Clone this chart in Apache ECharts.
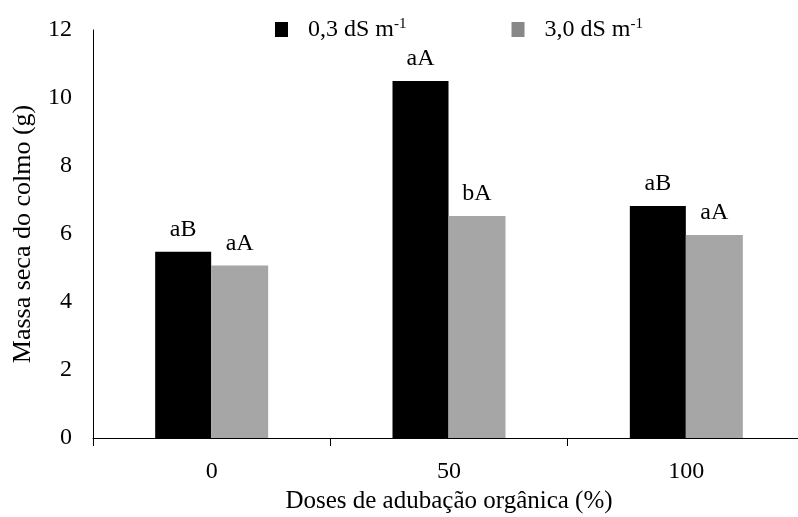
<!DOCTYPE html>
<html>
<head>
<meta charset="utf-8">
<script src="https://cdn.jsdelivr.net/npm/echarts@6/dist/echarts.min.js"></script>
<style>html,body{margin:0;padding:0;background:#fff;overflow:hidden}#c{width:798px;height:517px}</style>
</head>
<body>
<div id="c"></div>
<script>
const categories = ['0', '50', '100'];
const seriesLow = [5.48, 10.5, 6.82];
const seriesHigh = [5.07, 6.53, 5.97];
const lettersLow = ['aB', 'aA', 'aB'];
const lettersHigh = ['aA', 'bA', 'aA'];
const yTicks = [0, 2, 4, 6, 8, 10, 12];

const FONT = '"Liberation Serif", "DejaVu Serif", serif';
const chart = echarts.init(document.getElementById('c'));
const labelFor = (letters) => ({
  show: true, position: 'top', distance: 10,
  fontFamily: FONT, fontSize: 24, color: '#000',
  formatter: p => letters[p.dataIndex]
});
chart.setOption({
  animation: false,
  textStyle: { fontFamily: FONT },
  grid: { left: 93, top: 30, right: -7, bottom: 79, containLabel: false, outerBoundsMode: 'none' },
  legend: {
    top: 12, left: 270, itemGap: 105, itemWidth: 13, itemHeight: 15,
    icon: 'rect',
    textStyle: {
      fontFamily: FONT, fontSize: 24, color: '#000', padding: [0, 0, 0, 15],
      rich: { sup: { fontFamily: FONT, fontSize: 15, verticalAlign: 'top', padding: [0,0,10,0], color: '#000' }, n: { fontFamily: FONT, fontSize: 24, color: '#000' } }
    },
    formatter: name => name === 'low' ? '{n|0,3 dS m}{sup|-1}' : '{n|3,0 dS m}{sup|-1}',
    data: [{ name: 'low', itemStyle: { color: '#000' } }, { name: 'high', itemStyle: { color: '#888' } }]
  },
  xAxis: {
    type: 'category', data: categories,
    name: 'Doses de adubação orgânica (%)', nameLocation: 'middle', nameGap: 50,
    nameTextStyle: { fontFamily: FONT, fontSize: 25, color: '#000' },
    axisLine: { lineStyle: { color: '#000', width: 1 } },
    axisTick: { show: true, length: 8, lineStyle: { color: '#000' } },
    axisLabel: { fontFamily: FONT, fontSize: 24, color: '#000', margin: 22 }
  },
  yAxis: {
    type: 'value', min: 0, max: 12, interval: 2,
    name: 'Massa seca do colmo (g)', nameLocation: 'middle', nameGap: 57,
    nameTextStyle: { fontFamily: FONT, fontSize: 26, color: '#000' },
    axisLine: { show: true, lineStyle: { color: '#000', width: 1 } },
    axisTick: { show: false },
    splitLine: { show: false },
    axisLabel: { fontFamily: FONT, fontSize: 24, color: '#000', margin: 21,
      formatter: v => yTicks.includes(v) ? String(v) : '' }
  },
  series: [
    { name: 'low', type: 'bar', data: seriesLow, barWidth: 56, barGap: '0%',
      itemStyle: { color: '#000' }, label: labelFor(lettersLow) },
    { name: 'high', type: 'bar', data: seriesHigh, barWidth: 57, barGap: '0%',
      itemStyle: { color: '#a6a6a6' }, label: labelFor(lettersHigh) }
  ]
});
</script>
</body>
</html>
